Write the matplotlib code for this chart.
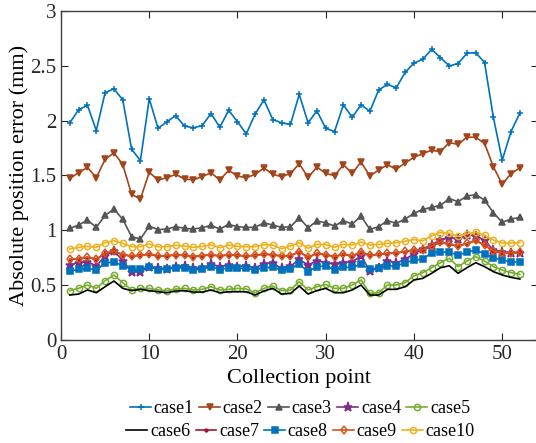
import numpy as np
import matplotlib
matplotlib.use("Agg")
import matplotlib.pyplot as plt
from matplotlib.ticker import FuncFormatter

# ---------------------------------------------------------------
# Données : erreur absolue de position (mm) aux 52 points de collecte
# ---------------------------------------------------------------
points = np.arange(1, 53)

case1 = [1.98, 2.10, 2.14, 1.91, 2.255, 2.29, 2.19, 1.74, 1.635, 2.20,
         1.93, 1.99, 2.045, 1.95, 1.935, 1.955, 2.065, 1.94, 2.095, 1.99,
         1.88, 2.06, 2.19, 2.01, 1.98, 1.965, 2.24, 1.98, 2.09, 1.93,
         1.90, 2.145, 2.03, 2.145, 2.085, 2.28, 2.33, 2.30, 2.44, 2.525,
         2.56, 2.65, 2.575, 2.50, 2.52, 2.615, 2.62, 2.53, 2.03, 1.64,
         1.90, 2.07]
case2 = [1.474, 1.525, 1.574, 1.48, 1.647, 1.707, 1.60, 1.328, 1.285, 1.529,
         1.459, 1.48, 1.51, 1.468, 1.46, 1.49, 1.525, 1.459, 1.547, 1.495,
         1.48, 1.51, 1.568, 1.51, 1.49, 1.518, 1.607, 1.483, 1.577, 1.52,
         1.498, 1.598, 1.52, 1.623, 1.495, 1.55, 1.598, 1.556, 1.616, 1.665,
         1.70, 1.73, 1.717, 1.80, 1.783, 1.85, 1.848, 1.793, 1.58, 1.42,
         1.517, 1.57]
case3 = [1.018, 1.048, 1.094, 1.027, 1.137, 1.194, 1.10, 0.942, 0.921, 1.039,
         1.006, 1.012, 1.033, 1.018, 1.012, 1.024, 1.045, 1.012, 1.054, 1.033,
         1.027, 1.027, 1.069, 1.048, 1.027, 1.033, 1.112, 1.024, 1.085, 1.069,
         1.039, 1.088, 1.057, 1.13, 1.009, 1.033, 1.088, 1.064, 1.103, 1.155,
         1.191, 1.21, 1.227, 1.29, 1.261, 1.313, 1.325, 1.276, 1.16, 1.073,
         1.103, 1.118]
case4 = [0.684, 0.705, 0.714, 0.675, 0.766, 0.814, 0.723, 0.623, 0.623, 0.669,
         0.653, 0.644, 0.669, 0.675, 0.653, 0.653, 0.693, 0.669, 0.684, 0.669,
         0.675, 0.659, 0.696, 0.702, 0.653, 0.672, 0.735, 0.684, 0.723, 0.705,
         0.693, 0.705, 0.714, 0.766, 0.632, 0.659, 0.723, 0.702, 0.738, 0.785,
         0.83, 0.87, 0.912, 0.933, 0.92, 0.955, 0.952, 0.908, 0.822, 0.80,
         0.797, 0.797]
case5 = [0.45, 0.471, 0.501, 0.471, 0.541, 0.593, 0.523, 0.456, 0.471, 0.471,
         0.456, 0.45, 0.465, 0.471, 0.456, 0.462, 0.486, 0.456, 0.462, 0.471,
         0.465, 0.431, 0.471, 0.492, 0.45, 0.456, 0.532, 0.456, 0.486, 0.507,
         0.471, 0.471, 0.501, 0.547, 0.425, 0.431, 0.501, 0.501, 0.523, 0.586,
         0.614, 0.659, 0.705, 0.745, 0.669, 0.72, 0.76, 0.72, 0.669, 0.638,
         0.614, 0.599]
case6 = [0.41, 0.419, 0.456, 0.431, 0.486, 0.538, 0.471, 0.45, 0.462, 0.45,
         0.44, 0.431, 0.447, 0.45, 0.437, 0.437, 0.456, 0.431, 0.44, 0.44,
         0.44, 0.41, 0.447, 0.471, 0.419, 0.425, 0.492, 0.419, 0.45, 0.471,
         0.431, 0.431, 0.456, 0.501, 0.41, 0.41, 0.462, 0.462, 0.486, 0.547,
         0.562, 0.608, 0.659, 0.677, 0.608, 0.659, 0.705, 0.669, 0.623, 0.593,
         0.571, 0.556]
case7 = [0.733, 0.742, 0.752, 0.737, 0.788, 0.812, 0.777, 0.765, 0.771, 0.782,
         0.765, 0.768, 0.774, 0.771, 0.761, 0.768, 0.777, 0.765, 0.777, 0.771,
         0.765, 0.771, 0.782, 0.777, 0.765, 0.769, 0.803, 0.755, 0.788, 0.777,
         0.761, 0.782, 0.765, 0.803, 0.771, 0.78, 0.788, 0.794, 0.805, 0.821,
         0.821, 0.856, 0.894, 0.872, 0.858, 0.878, 0.906, 0.865, 0.811, 0.794,
         0.794, 0.799]
case8 = [0.629, 0.644, 0.653, 0.638, 0.699, 0.714, 0.675, 0.644, 0.644, 0.669,
         0.641, 0.644, 0.659, 0.656, 0.638, 0.644, 0.669, 0.641, 0.659, 0.653,
         0.653, 0.638, 0.659, 0.662, 0.638, 0.648, 0.693, 0.623, 0.669, 0.675,
         0.638, 0.662, 0.662, 0.693, 0.644, 0.653, 0.675, 0.675, 0.705, 0.729,
         0.735, 0.797, 0.803, 0.80, 0.775, 0.80, 0.82, 0.785, 0.75, 0.725,
         0.714, 0.708]
case9 = [0.735, 0.741, 0.754, 0.738, 0.79, 0.814, 0.778, 0.766, 0.772, 0.784,
         0.766, 0.769, 0.775, 0.772, 0.76, 0.769, 0.778, 0.766, 0.778, 0.772,
         0.766, 0.772, 0.784, 0.778, 0.766, 0.77, 0.805, 0.754, 0.79, 0.778,
         0.76, 0.784, 0.766, 0.805, 0.772, 0.781, 0.79, 0.796, 0.807, 0.823,
         0.822, 0.858, 0.896, 0.873, 0.86, 0.88, 0.908, 0.866, 0.812, 0.795,
         0.795, 0.80]
case10 = [0.83, 0.845, 0.854, 0.845, 0.887, 0.905, 0.881, 0.851, 0.851, 0.875,
          0.851, 0.851, 0.863, 0.857, 0.845, 0.854, 0.869, 0.842, 0.866, 0.854,
          0.851, 0.851, 0.869, 0.866, 0.832, 0.857, 0.888, 0.836, 0.872, 0.869,
          0.845, 0.872, 0.866, 0.893, 0.866, 0.872, 0.881, 0.887, 0.901, 0.916,
          0.904, 0.95, 0.98, 0.972, 0.945, 0.968, 0.984, 0.954, 0.912, 0.884,
          0.884, 0.888]

series = [case1, case2, case3, case4, case5, case6, case7, case8, case9, case10]
labels = ["case1", "case2", "case3", "case4", "case5",
          "case6", "case7", "case8", "case9", "case10"]

# style de chaque courbe : couleur, marqueur, marqueur plein ou non
styles = [
    ("#0072BD", "+", True),
    ("#A2451A", "v", True),
    ("#555555", "^", True),
    ("#7E2F8E", "*", True),
    ("#77AC30", "o", False),
    ("#000000", None, True),
    ("#A2142F", ".", True),
    ("#0072BD", "s", True),
    ("#D95319", "d", False),
    ("#EDB120", "o", False),
]

# ---------------------------------------------------------------
# Graphique
# ---------------------------------------------------------------
plt.rcParams["font.family"] = ["Liberation Serif", "DejaVu Serif"]

fig = plt.figure(figsize=(5.36, 4.43), dpi=100)
ax = fig.add_axes([0.1138, 0.2325, 0.889, 0.7427])

handles = []
for y, lab, (col, mk, filled) in zip(series, labels, styles):
    ms = 4.5
    if mk == "*":
        ms = 6.5
    elif mk == "+":
        ms = 5
    elif mk == ".":
        ms = 4
    h, = ax.plot(points, y, color=col, marker=mk, markersize=ms, linewidth=1.2,
                 markerfacecolor=col if filled else "none",
                 markeredgecolor=col, markeredgewidth=1.1, label=lab)
    handles.append(h)

ax.set_xlim(0, 54)
ax.set_ylim(0, 3)
ax.set_xticks(np.arange(0, 51, 10))
ax.set_yticks(np.arange(0, 3.01, 0.5))
ax.yaxis.set_major_formatter(FuncFormatter(lambda v, p: f"{v:g}"))
ax.tick_params(direction="in", length=5, top=True, right=True,
               labelsize=15, colors="#262626", width=0.8)
for sp in ax.spines.values():
    sp.set_color("#404040")
    sp.set_linewidth(1.0)

ax.set_xlabel("Collection point", fontsize=16, labelpad=4)
ax.set_ylabel("Absolute position error (mm)", fontsize=16, labelpad=1)

# légende sur deux lignes : case1-5 puis case6-10
leg_kw = dict(loc="center left", ncol=5, frameon=False, fontsize=13,
              handlelength=1.15, handletextpad=0.15, columnspacing=0.3,
              borderpad=0, borderaxespad=0)
fig.legend(handles[:5], labels[:5], bbox_to_anchor=(0.243, 0.077), **leg_kw)
fig.legend(handles[5:], labels[5:], bbox_to_anchor=(0.236, 0.025), **leg_kw)

fig.savefig("out.png", dpi=100)
